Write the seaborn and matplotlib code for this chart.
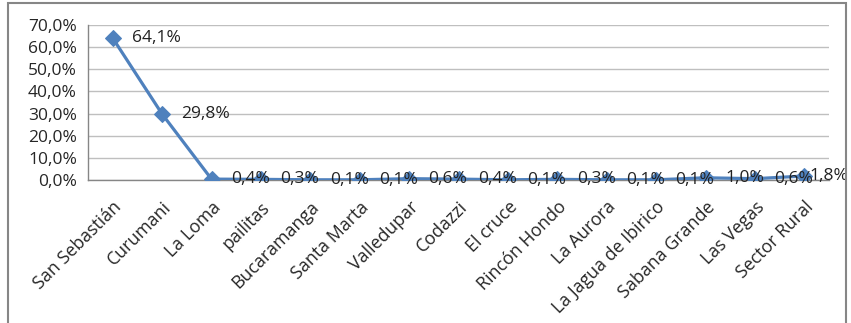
import numpy as np
import pandas as pd
import matplotlib
matplotlib.use('Agg')
import matplotlib.pyplot as plt
import seaborn as sns
from matplotlib.patches import Rectangle
from matplotlib.ticker import FuncFormatter, FixedLocator

lugares = ['San Sebastián', 'Curumani', 'La Loma', 'pailitas', 'Bucaramanga',
           'Santa Marta', 'Valledupar', 'Codazzi', 'El cruce', 'Rincón Hondo',
           'La Aurora', 'La Jagua de Ibirico', 'Sabana Grande', 'Las Vegas',
           'Sector Rural']
porcentaje = [64.1, 29.8, 0.4, 0.3, 0.1, 0.1, 0.6, 0.4, 0.1, 0.3, 0.1, 0.1, 1.0, 0.6, 1.8]

if __name__ == "__main__":

    sns.set_style('white')
    plt.rcParams['font.family'] = ['Open Sans', 'DejaVu Sans']
    plt.rcParams['font.size'] = 12

    df = pd.DataFrame({'lugar': lugares, 'pct': np.array(porcentaje) / 100.0})

    fig = plt.figure(figsize=(8.51, 3.23), dpi=100)
    ax = fig.add_axes([88/851, 1-180/323, (829-88)/851, (180-25)/323])

    sns.lineplot(x='lugar', y='pct', data=df, sort=False, color='#4F81BD',
                 linewidth=2.3, marker='D', markersize=8, markeredgecolor='#4F81BD',
                 ax=ax, zorder=3)

    n = len(lugares)
    for i, v in enumerate(df.pct):
        dx = 14 if i < n - 1 else 4   # ultima etiqueta pegada al borde
        ax.annotate(('%.1f%%' % (v*100)).replace('.', ','), (i, v),
                    xytext=(dx, 0), textcoords='offset points',
                    ha='left', va='center', fontsize=12.5, color='#222222', zorder=4)

    ax.set_xlim(-0.5, n - 0.5)
    ax.set_ylim(0, 0.70)
    ax.set_yticks(np.arange(0, 0.71, 0.1))
    ax.yaxis.set_major_formatter(FuncFormatter(lambda y, p: ('%.1f%%' % (y*100)).replace('.', ',')))
    ax.yaxis.grid(True, color='#BFBFBF', linewidth=1)
    ax.set_axisbelow(True)

    ax.set_xticks(range(n))
    ax.set_xticklabels(lugares, rotation=45, ha='right', rotation_mode='anchor', fontsize=12.8)
    ax.xaxis.set_minor_locator(FixedLocator(np.arange(-0.5, n, 1)))
    ax.tick_params(axis='x', which='major', length=0, pad=13)
    ax.tick_params(axis='x', which='minor', length=6, color='#868686', direction='out')
    ax.tick_params(axis='y', length=6, color='#868686', direction='out', pad=2, labelsize=12.5)
    ax.set_xlabel('')
    ax.set_ylabel('')

    for s in ['top', 'right']:
        ax.spines[s].set_visible(False)
    for s in ['left', 'bottom']:
        ax.spines[s].set_color('#868686')
        ax.spines[s].set_linewidth(1)

    fig.patches.append(Rectangle((8/851, -0.05), (846-8)/851, 1.05 - 3/323,
                                 transform=fig.transFigure, fill=False,
                                 edgecolor='#868686', linewidth=1.5))

    plt.savefig('out.png', dpi=100)
    plt.close()
